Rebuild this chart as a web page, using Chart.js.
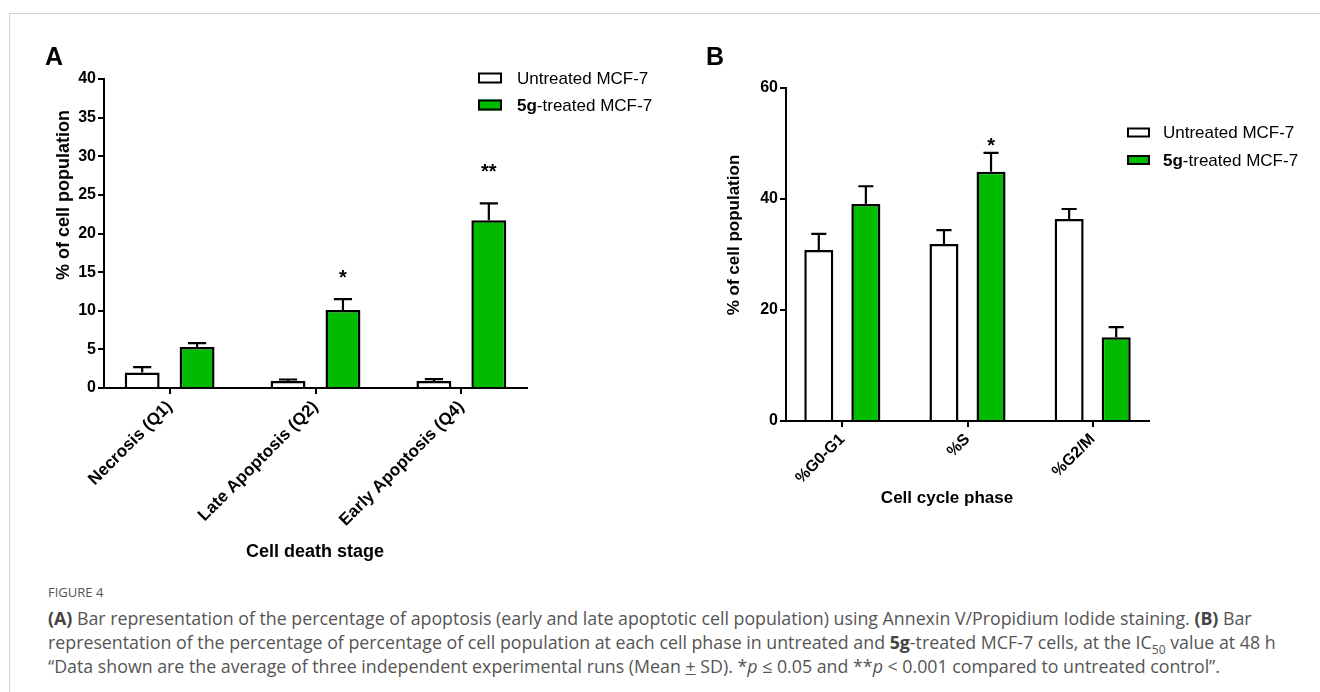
<!DOCTYPE html>
<html><head><meta charset="utf-8">
<script src="https://cdn.jsdelivr.net/npm/chart.js@4.4.0/dist/chart.umd.min.js"></script>
<style>
html,body{margin:0;padding:0;background:#fff;width:1320px;height:692px;overflow:hidden;position:relative;}
#frameTop{position:absolute;left:9px;top:13px;width:1311px;height:1px;background:#d2d2d2;}
#frameLeft{position:absolute;left:9px;top:13px;width:1px;height:679px;background:#d2d2d2;}
canvas{position:absolute;}
#ca{left:0;top:0;}
#cb{left:700px;top:0;}
.panel{position:absolute;font-family:"Liberation Sans",Arial,sans-serif;font-weight:bold;font-size:25px;line-height:25px;color:#000;}
#caption{position:absolute;left:48px;top:582px;font-family:"Open Sans",sans-serif;font-size:17.8px;line-height:24px;color:#555;white-space:nowrap;}
#caption .fig{font-size:13px;line-height:20px;margin-bottom:4px;}
#caption b{font-weight:700;color:#444;}
sub{font-size:12px;line-height:0;}
</style></head>
<body>
<div id="frameTop"></div><div id="frameLeft"></div>
<canvas id="ca" width="700" height="570"></canvas>
<canvas id="cb" width="620" height="520"></canvas>
<div class="panel" style="left:45px;top:44px;">A</div>
<div class="panel" style="left:706px;top:44px;">B</div>
<div id="caption">
<div class="fig">FIGURE 4</div>
<div><b>(A)</b> Bar representation of the percentage of apoptosis (early and late apoptotic cell population) using Annexin V/Propidium Iodide staining. <b>(B)</b> Bar</div>
<div>representation of the percentage of percentage of cell population at each cell phase in untreated and <b>5g</b>-treated MCF-7 cells, at the IC<sub>50</sub> value at 48 h</div>
<div>“Data shown are the average of three independent experimental runs (Mean <u>+</u> SD). *<i>p</i> ≤ 0.05 and **<i>p</i> &lt; 0.001 compared to untreated control”.</div>
</div>
<script>
// ---- data ----
const seriesLabels = ['Untreated MCF-7', '5g-treated MCF-7'];

const categoriesA = ['Necrosis (Q1)', 'Late Apoptosis (Q2)', 'Early Apoptosis (Q4)'];
const untreatedA = [2.0, 0.9, 0.9];
const untreatedSdA = [0.7, 0.2, 0.25];
const treatedA = [5.3, 10.1, 21.7];
const treatedSdA = [0.5, 1.4, 2.2];
const significanceA = ['', '*', '**'];
const yTicksA = [0, 5, 10, 15, 20, 25, 30, 35, 40];

const categoriesB = ['%G0-G1', '%S', '%G2/M'];
const untreatedB = [30.8, 31.9, 36.4];
const untreatedSdB = [2.9, 2.5, 1.8];
const treatedB = [39.1, 44.9, 15.1];
const treatedSdB = [3.2, 3.4, 1.8];
const significanceB = ['', '*', ''];
const yTicksB = [0, 20, 40, 60];

// ---- styling ----
const FONT = '"Liberation Sans", Arial, sans-serif';
const GREEN = '#00bb00';

const errorBarPlugin = {
  id: 'errorBars',
  afterDatasetsDraw(chart, args, opts) {
    const ctx = chart.ctx, y = chart.scales.y;
    chart.data.datasets.forEach((ds, di) => {
      const meta = chart.getDatasetMeta(di);
      meta.data.forEach((bar, i) => {
        const top = y.getPixelForValue(ds.data[i].y + ds.sd[i]);
        const half = bar.width * opts.capRatio / 2;
        ctx.save();
        ctx.strokeStyle = '#000';
        ctx.lineWidth = opts.lineWidth;
        ctx.beginPath();
        ctx.moveTo(bar.x, bar.y);
        ctx.lineTo(bar.x, top);
        ctx.moveTo(bar.x - half, top);
        ctx.lineTo(bar.x + half, top);
        ctx.stroke();
        ctx.restore();
      });
    });
  }
};

const sigPlugin = {
  id: 'sigMarks',
  afterDatasetsDraw(chart, args, opts) {
    const ctx = chart.ctx, y = chart.scales.y;
    const meta = chart.getDatasetMeta(1);
    opts.marks.forEach((txt, i) => {
      if (!txt) return;
      const bar = meta.data[i];
      const cy = y.getPixelForValue(opts.at[i]);
      ctx.save();
      ctx.font = 'bold ' + opts.size + 'px ' + FONT;
      ctx.fillStyle = '#000';
      ctx.textAlign = 'center';
      ctx.textBaseline = 'alphabetic';
      ctx.fillText(txt, bar.x, cy + opts.size * 0.57);
      ctx.restore();
    });
  }
};

const legendPlugin = {
  id: 'boxLegend',
  afterDraw(chart, args, opts) {
    const ctx = chart.ctx;
    chart.data.datasets.forEach((ds, i) => {
      const cy = opts.y + i * opts.dy;
      ctx.save();
      ctx.fillStyle = ds.backgroundColor;
      ctx.fillRect(opts.x, cy - opts.boxH / 2, opts.boxW, opts.boxH);
      ctx.strokeStyle = '#000';
      ctx.lineWidth = 2;
      ctx.strokeRect(opts.x + 1, cy - opts.boxH / 2 + 1, opts.boxW - 2, opts.boxH - 2);
      ctx.fillStyle = '#000';
      ctx.textBaseline = 'middle';
      ctx.textAlign = 'left';
      let tx = opts.x + opts.boxW + opts.gap;
      let label = ds.label;
      if (label.startsWith(opts.boldPrefix)) {
        ctx.font = 'bold ' + opts.size + 'px ' + FONT;
        ctx.fillText(opts.boldPrefix, tx, cy + 1);
        tx += ctx.measureText(opts.boldPrefix).width;
        label = label.slice(opts.boldPrefix.length);
      }
      ctx.font = opts.size + 'px ' + FONT;
      ctx.fillText(label, tx, cy + 1);
      ctx.restore();
    });
  }
};

const axisTitlePlugin = {
  id: 'axisTitles',
  afterDraw(chart, args, opts) {
    const ctx = chart.ctx;
    ctx.save();
    ctx.font = 'bold ' + opts.size + 'px ' + FONT;
    ctx.fillStyle = '#000';
    ctx.textAlign = 'center';
    ctx.textBaseline = 'middle';
    ctx.fillText(opts.xText, opts.xTitleX, opts.xTitleY);
    ctx.translate(opts.yTitleX, opts.yTitleY);
    ctx.rotate(-Math.PI / 2);
    ctx.fillText(opts.yText, 0, 0);
    ctx.restore();
  }
};

function buildChart(id, c) {
  const mk = (vals) => c.cats.map((_, i) => ({x: i, y: vals[i]}));
  return new Chart(document.getElementById(id), {
    type: 'bar',
    data: {
      datasets: [
        {label: seriesLabels[0], data: mk(c.u), sd: c.uSd, backgroundColor: '#ffffff',
         borderColor: '#000', borderWidth: 2.5, borderSkipped: 'bottom',
         categoryPercentage: c.cp, barPercentage: c.bp},
        {label: seriesLabels[1], data: mk(c.t), sd: c.tSd, backgroundColor: GREEN,
         borderColor: '#000', borderWidth: 2.5, borderSkipped: 'bottom',
         categoryPercentage: c.cp, barPercentage: c.bp}
      ]
    },
    options: {
      responsive: false, animation: false, devicePixelRatio: 1,
      layout: {padding: {left: 0, top: c.top, right: c.right, bottom: 0}},
      plugins: {
        legend: {display: false}, tooltip: {enabled: false},
        errorBars: {capRatio: 0.52, lineWidth: 2.2},
        sigMarks: {marks: c.sig, at: c.sigAt, size: 20},
        boxLegend: c.legend,
        axisTitles: c.titles
      },
      scales: {
        x: {
          type: 'linear', min: -0.45, max: 2.45, offset: false,
          afterBuildTicks: s => { s.ticks = c.cats.map((_, i) => ({value: i})); },
          afterFit: s => { s.height = c.xh; },
          ticks: {callback: v => c.cats[v], minRotation: 45, maxRotation: 45, autoSkip: false,
                  font: {family: FONT, size: c.xFont, weight: 'bold'}, color: '#000', padding: 3},
          grid: {drawOnChartArea: false, drawTicks: true, tickLength: 6, color: '#000', lineWidth: 2, offset: false},
          border: {color: '#000', width: 2}
        },
        y: {
          min: 0, max: c.ymax,
          afterBuildTicks: s => { s.ticks = c.yticks.map(v => ({value: v})); },
          afterFit: s => { s.width = c.yw; },
          ticks: {font: {family: FONT, size: c.yFont, weight: 'bold'}, color: '#000', padding: 2},
          grid: {drawOnChartArea: false, drawTicks: true, tickLength: 6, color: '#000', lineWidth: 2},
          border: {color: '#000', width: 2}
        }
      }
    },
    plugins: [errorBarPlugin, sigPlugin, legendPlugin, axisTitlePlugin]
  });
}

buildChart('ca', {
  cats: categoriesA, u: untreatedA, uSd: untreatedSdA, t: treatedA, tSd: treatedSdA,
  sig: significanceA, sigAt: [0, 15.0, 28.6],
  ymax: 40, yticks: yTicksA, yw: 104, xh: 182, top: 79, right: 173,
  cp: 0.753, bp: 0.636, xFont: 17, yFont: 16,
  legend: {x: 478, y: 78, dy: 27, boxW: 24, boxH: 11, gap: 15, size: 17, boldPrefix: '5g'},
  titles: {size: 18, xText: 'Cell death stage', xTitleX: 315, xTitleY: 552,
           yText: '% of cell population', yTitleX: 64, yTitleY: 195}
});

buildChart('cb', {
  cats: categoriesB, u: untreatedB, uSd: untreatedSdB, t: treatedB, tSd: treatedSdB,
  sig: significanceB, sigAt: [0, 50.6, 0],
  ymax: 60, yticks: yTicksB, yw: 86, xh: 99, top: 88, right: 171,
  cp: 0.752, bp: 0.617, xFont: 16, yFont: 16,
  legend: {x: 427, y: 132.5, dy: 27.5, boxW: 23, boxH: 10, gap: 13, size: 17, boldPrefix: '5g'},
  titles: {size: 17, xText: 'Cell cycle phase', xTitleX: 247, xTitleY: 498,
           yText: '% of cell population', yTitleX: 34, yTitleY: 235}
});
</script>
</body></html>
